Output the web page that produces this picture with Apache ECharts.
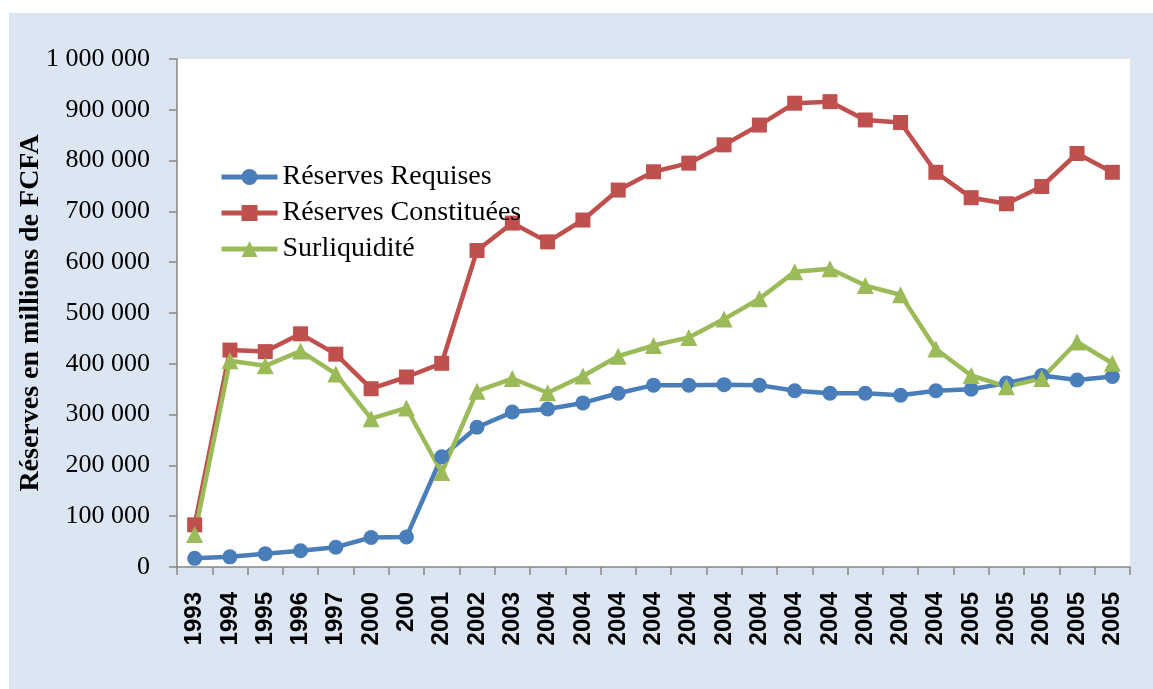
<!DOCTYPE html>
<html>
<head>
<meta charset="utf-8">
<script src="https://cdn.jsdelivr.net/npm/echarts@6/dist/echarts.min.js"></script>
<style>
  html, body { margin: 0; padding: 0; background: #ffffff; }
  #frame { position: absolute; left: 9px; top: 13px; width: 1144px; height: 676px; background: #dce6f2; }
  #main { position: absolute; left: 0; top: 0; width: 1153px; height: 689px; }
</style>
</head>
<body>
<div id="frame"></div>
<div id="main"></div>
<script>
// catégories (libellés tels qu'ils apparaissent sur l'axe)
var annees = ['1993', '1994', '1995', '1996', '1997', '2000', '200', '2001', '2002', '2003',
  '2004', '2004', '2004', '2004', '2004', '2004', '2004', '2004', '2004', '2004', '2004', '2004',
  '2005', '2005', '2005', '2005', '2005'];

// valeurs en millions de FCFA
var reservesRequises = [17000, 20000, 26000, 32000, 39000, 58000, 59000, 217000, 275000, 305000,
  311000, 323000, 342000, 358000, 358000, 359000, 358000, 347000, 342000, 342000, 338000, 347000,
  350000, 362000, 377000, 368000, 375000];
var reservesConstituees = [83000, 427000, 424000, 459000, 419000, 351000, 374000, 401000, 623000, 677000,
  640000, 683000, 742000, 778000, 795000, 831000, 870000, 913000, 916000, 880000, 875000, 777000,
  727000, 715000, 749000, 814000, 777000];
var surliquidite = [64000, 406000, 396000, 425000, 380000, 292000, 313000, 186000, 346000, 371000,
  343000, 376000, 415000, 436000, 452000, 488000, 528000, 581000, 587000, 554000, 536000, 429000,
  377000, 355000, 371000, 443000, 401000];

var serif = '"Liberation Serif", "Times New Roman", serif';
var axisGrey = '#868686';

var myChart = echarts.init(document.getElementById('main'), null, { renderer: 'canvas' });

myChart.setOption({
  animation: false,
  backgroundColor: 'transparent',
  grid: {
    left: 177, right: 23, top: 59, bottom: 122,
    show: true, backgroundColor: '#ffffff', borderWidth: 0
  },
  legend: {
    orient: 'vertical',
    left: 219, top: 163,
    padding: 0,
    itemGap: 8,
    itemWidth: 56, itemHeight: 20,
    lineStyle: { width: 5 },
    textStyle: { fontFamily: serif, fontSize: 28, color: '#000000' },
    data: ['Réserves Requises', 'Réserves Constituées', 'Surliquidité']
  },
  xAxis: {
    type: 'category',
    data: annees,
    boundaryGap: true,
    axisLine: { lineStyle: { color: axisGrey, width: 1.5 } },
    axisTick: { show: true, alignWithLabel: false, length: 8, interval: 0, lineStyle: { color: axisGrey, width: 1.5 } },
    axisLabel: {
      interval: 0, rotate: 90, margin: 25,
      fontFamily: '"Liberation Sans", Arial, sans-serif', fontWeight: 'bold', fontSize: 24, color: '#000000'
    }
  },
  yAxis: {
    type: 'value',
    min: 0, max: 1000000, interval: 100000,
    name: 'Réserves en millions de FCFA',
    nameLocation: 'middle',
    nameGap: 132,
    nameMoveOverlap: false,
    nameRotate: 90,
    nameTextStyle: { fontFamily: serif, fontWeight: 'bold', fontSize: 28, color: '#000000' },
    axisLine: { show: true, lineStyle: { color: axisGrey, width: 1.5 } },
    axisTick: { show: true, length: 8, lineStyle: { color: axisGrey, width: 1.5 } },
    splitLine: { show: false },
    axisLabel: {
      margin: 27,
      fontFamily: serif, fontSize: 26, color: '#000000',
      formatter: function (v) { return String(v).replace(/\B(?=(\d{3})+(?!\d))/g, ' '); }
    }
  },
  series: [
    {
      name: 'Réserves Requises', type: 'line', data: reservesRequises,
      symbol: 'circle', symbolSize: 15,
      lineStyle: { color: '#4a7ebb', width: 4.5 },
      itemStyle: { color: '#4a7ebb' }
    },
    {
      name: 'Réserves Constituées', type: 'line', data: reservesConstituees,
      symbol: 'rect', symbolSize: 15,
      lineStyle: { color: '#c0504d', width: 4.5 },
      itemStyle: { color: '#c0504d' }
    },
    {
      name: 'Surliquidité', type: 'line', data: surliquidite,
      symbol: 'triangle', symbolSize: 17,
      lineStyle: { color: '#9bbb59', width: 4.5 },
      itemStyle: { color: '#9bbb59' }
    }
  ]
});
</script>
</body>
</html>
